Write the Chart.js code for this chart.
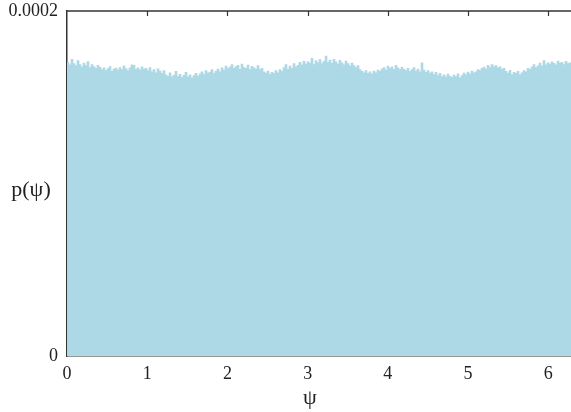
<!DOCTYPE html>
<html>
<head>
<meta charset="utf-8">
<script src="https://cdn.jsdelivr.net/npm/chart.js"></script>
<style>
  body { margin: 0; background: #fff; }
  #wrap { width: 571px; height: 412px; position: relative; }
</style>
</head>
<body>
<div id="wrap"><canvas id="chart"></canvas></div>
<script>
// histogram of psi over [0, 2pi], values in units of 1e-7
const psiMax = 2 * Math.PI;
const pValues = [
  1702, 1688, 1720, 1695, 1684, 1712, 1690, 1676, 1698, 1683, 1707, 1672,
  1690, 1678, 1668, 1685, 1674, 1660, 1671, 1655, 1666, 1678, 1650, 1663,
  1669, 1657, 1672, 1660, 1681, 1666, 1654, 1670, 1688, 1685, 1662, 1671,
  1658, 1676, 1664, 1667, 1655, 1672, 1648, 1660, 1642, 1665, 1651, 1638,
  1655, 1630, 1622, 1641, 1618, 1628, 1650, 1620, 1633, 1615, 1627, 1645,
  1619, 1630, 1612, 1626, 1638, 1621, 1635, 1648, 1632, 1655, 1640, 1646,
  1660, 1638, 1652, 1664, 1647, 1670, 1658, 1680, 1666, 1675, 1690, 1668,
  1678, 1685, 1662, 1692, 1674, 1668, 1686, 1660, 1679, 1671, 1664, 1683,
  1660, 1668, 1648, 1640, 1652, 1632, 1645, 1638, 1655, 1642, 1660, 1650,
  1672, 1690, 1662, 1680, 1668, 1695, 1676, 1685, 1702, 1688, 1710, 1693,
  1705, 1698, 1725, 1690, 1712, 1700, 1718, 1695, 1708, 1738, 1702, 1715,
  1697, 1720, 1706, 1692, 1714, 1700, 1688, 1709, 1695, 1680, 1698, 1684,
  1672, 1684, 1660, 1650, 1642, 1655, 1638, 1648, 1635, 1652, 1641, 1658,
  1650, 1664, 1672, 1658, 1680, 1668, 1676, 1662, 1685, 1670, 1660, 1673,
  1662, 1655, 1668, 1650, 1660, 1672, 1652, 1663, 1648, 1700, 1658, 1645,
  1655, 1640, 1648, 1632, 1644, 1625, 1638, 1620, 1630, 1618, 1634, 1622,
  1615, 1628, 1620, 1636, 1612, 1625, 1640, 1630, 1646, 1635, 1652, 1642,
  1648, 1660, 1654, 1668, 1675, 1664, 1685, 1672, 1690, 1678, 1684, 1670,
  1676, 1662, 1668, 1650, 1640, 1656, 1632, 1645, 1638, 1650, 1630, 1642,
  1655, 1648, 1668, 1660, 1675, 1690, 1672, 1682, 1698, 1680, 1712, 1688,
  1700, 1692, 1706, 1696, 1688, 1710, 1698, 1703, 1690, 1708, 1695, 1700
];
const xTicks = [0, 1, 2, 3, 4, 5, 6];
const yTicks = [0, 0.0002];
const yTickLabels = ['0', '0.0002'];

const binW = psiMax / pValues.length;
const points = pValues.map((v, i) => ({ x: (i + 0.5) * binW, y: v * 1e-7 }));

const serif = "'Liberation Serif', 'DejaVu Serif', serif";
const axisColor = '#333';

// frame on top + inward ticks on top edge + axis titles
const framePlugin = {
  id: 'frame',
  afterDraw(chart) {
    const { ctx, chartArea: a } = chart;
    const xs = chart.scales.x;
    ctx.save();
    ctx.strokeStyle = axisColor;
    ctx.lineWidth = 1.5;
    ctx.beginPath();
    ctx.moveTo(a.left, a.top);
    ctx.lineTo(a.right, a.top);
    ctx.stroke();
    ctx.lineWidth = 1.2;
    xTicks.forEach(t => {
      if (t === 0) return;
      const px = Math.round(xs.getPixelForValue(t)) + 0.5;
      ctx.beginPath();
      ctx.moveTo(px, a.top);
      ctx.lineTo(px, a.top + 5);
      ctx.stroke();
    });
    ctx.fillStyle = '#222';
    ctx.font = '22px ' + serif;
    ctx.textAlign = 'center';
    ctx.textBaseline = 'middle';
    ctx.fillText('p(\u03c8)', 31, 190);
    ctx.fillText('\u03c8', 310, 398);
    ctx.restore();
  }
};

new Chart(document.getElementById('chart'), {
  type: 'bar',
  data: {
    datasets: [{
      data: points,
      backgroundColor: '#add8e6',
      borderWidth: 0,
      barPercentage: 1,
      categoryPercentage: 1
    }]
  },
  options: {
    responsive: true,
    maintainAspectRatio: false,
    animation: false,
    layout: { padding: { top: 11, right: 0, left: 0, bottom: 0 } },
    plugins: { legend: { display: false }, tooltip: { enabled: false } },
    scales: {
      x: {
        type: 'linear',
        min: 0,
        max: psiMax,
        offset: false,
        afterBuildTicks: s => { s.ticks = xTicks.map(v => ({ value: v })); },
        afterFit: s => { s.height = 56; s.paddingLeft = 0; s.paddingRight = 0; },
        grid: { display: false, drawTicks: false },
        border: { display: true, color: axisColor, width: 1.5 },
        ticks: {
          padding: 7,
          color: '#222',
          font: { family: serif, size: 18 },
          maxRotation: 0,
          callback: v => String(v)
        }
      },
      y: {
        min: 0,
        max: 0.0002,
        afterBuildTicks: s => { s.ticks = yTicks.map(v => ({ value: v })); },
        afterFit: s => { s.width = 67; s.paddingTop = 0; s.paddingBottom = 0; },
        grid: { display: false, drawTicks: false },
        border: { display: true, color: axisColor, width: 1.5 },
        ticks: {
          padding: 9,
          color: '#222',
          font: { family: serif, size: 18 },
          callback: (v, i) => yTickLabels[i]
        }
      }
    }
  },
  plugins: [framePlugin]
});
</script>
</body>
</html>
